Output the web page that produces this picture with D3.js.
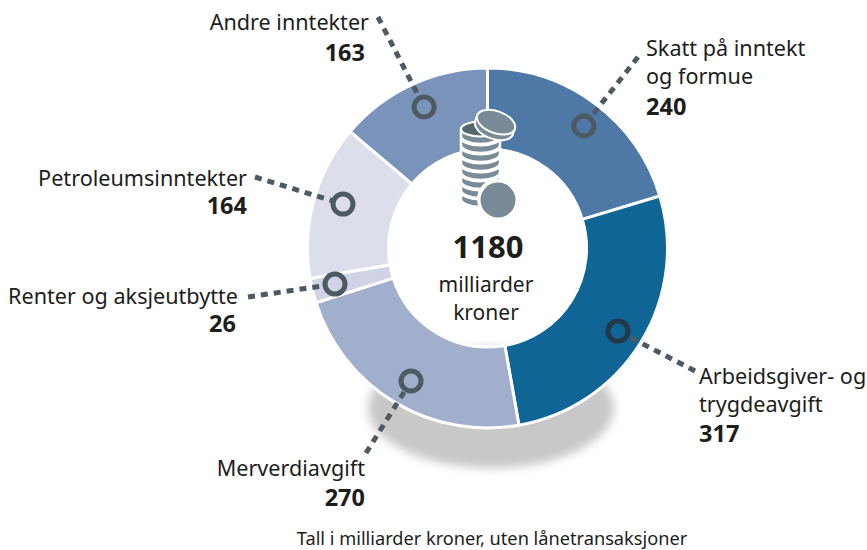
<!DOCTYPE html>
<html><head><meta charset="utf-8">
<script src="https://cdn.jsdelivr.net/npm/d3@7"></script>
<style>html,body{margin:0;background:#fff}svg{display:block}text{font-family:"Noto Sans",sans-serif;fill:#1d1d1b}</style>
</head><body><svg id="c" width="867" height="550"></svg>
<script>
const categories=["Skatt på inntekt og formue","Arbeidsgiver- og trygdeavgift","Merverdiavgift","Renter og aksjeutbytte","Petroleumsinntekter","Andre inntekter"];
const values=[240,317,270,26,164,163];
const colors=["#4e79a7","#0f6595","#a2afcc","#cfd3e5","#dcdeeb","#7a93bb"];
const ringColors=["#4d5a61","#23394a","#4d5a61","#4d5a61","#4d5a61","#4d5a61"];
const labelLines=[["Skatt på inntekt","og formue"],["Arbeidsgiver- og","trygdeavgift"],["Merverdiavgift"],["Renter og aksjeutbytte"],["Petroleumsinntekter"],["Andre inntekter"]];
const labelAnchor=["start","start","end","end","end","end"];
const labelX=[646,699,365,238,247,369];
const labelY=[56,384,476,304,185.5,30];
const ringDeg=[38.3,122.5,209.9,256.7,286.9,335.8];
const ringRad=[155.5,154.7,153.4,156.7,151,154.6];
const leaderEnd=[[638,57],[695,371],[366,453],[248,297],[255,177],[378,17]];
const totalLabel="1180",centerLines=["milliarder","kroner"];
const footnote="Tall i milliarder kroner, uten lånetransaksjoner";
const cx=487.5,cy=248,R=180,r=99;
const svg=d3.select("#c");
const defs=svg.append("defs");
defs.append("filter").attr("id","blur").attr("x","-20%").attr("y","-20%").attr("width","140%").attr("height","140%")
  .append("feGaussianBlur").attr("stdDeviation",5);
svg.append("ellipse").attr("cx",491).attr("cy",408).attr("rx",123).attr("ry",60).attr("fill","#c8c8c8").attr("filter","url(#blur)");
const pie=d3.pie().sort(null).value(d=>d);
const arcs=pie(values);
const g=svg.append("g").attr("transform",`translate(${cx},${cy})`);
const arc=d3.arc().innerRadius(r).outerRadius(R);
g.selectAll("path.s").data(arcs).join("path").attr("class","s").attr("d",arc)
 .attr("fill",(d,i)=>colors[i]).attr("stroke","#fff").attr("stroke-width",3);
const ringPos=ringDeg.map((a,i)=>d3.pointRadial(a*Math.PI/180,ringRad[i]));
svg.append("g").selectAll("line").data(ringPos).join("line")
 .attr("x2",d=>d[0]+cx).attr("y2",d=>d[1]+cy)
 .attr("x1",(d,i)=>leaderEnd[i][0]).attr("y1",(d,i)=>leaderEnd[i][1])
 .attr("stroke","#4d5a61").attr("stroke-width",5).attr("stroke-dasharray","7 6");
svg.append("g").attr("transform",`translate(${cx},${cy})`).selectAll("circle").data(ringPos).join("circle")
 .attr("cx",d=>d[0]).attr("cy",d=>d[1]).attr("r",10)
 .attr("fill",(d,i)=>colors[i]).attr("stroke",(d,i)=>ringColors[i]).attr("stroke-width",5);
const coinFill="#7a8b98",coinDark="#55666f";
const coins=svg.append("g");
const stackY=[198,189,180,171,162,153,144,135];
stackY.forEach(y=>{
  coins.append("path").attr("d",`M461,${y-6} v7 a19.5,8 0 0 0 39,0 v-7 z`).attr("fill",coinFill).attr("stroke","#fff").attr("stroke-width",2.5);
  coins.append("ellipse").attr("cx",480.5).attr("cy",y-6).attr("rx",19.5).attr("ry",7.5).attr("fill",coinDark).attr("stroke","#fff").attr("stroke-width",2);
});
const topCoin=coins.append("g").attr("transform","translate(495,125) rotate(20)");
topCoin.append("path").attr("d","M-20,-3 v6 a20,11 0 0 0 40,0 v-6 z").attr("fill",coinFill).attr("stroke","#fff").attr("stroke-width",2);
topCoin.append("ellipse").attr("cy",-3).attr("rx",20).attr("ry",11).attr("fill",coinFill).attr("stroke","#fff").attr("stroke-width",2);
coins.append("circle").attr("cx",497).attr("cy",199).attr("r",20).attr("fill","#fff");
coins.append("circle").attr("cx",498).attr("cy",200).attr("r",17.5).attr("fill",coinFill);
const lab=svg.append("g").selectAll("g").data(categories).join("g");
lab.each(function(d,i){
  const s=d3.select(this);
  labelLines[i].forEach((t,k)=>s.append("text").attr("x",labelX[i]).attr("y",labelY[i]+k*27.5).attr("text-anchor",labelAnchor[i]).attr("font-size",21.6).text(t));
});
const valueX=[646,699,365,236,247,365];
const valueY=[115,442,506,332,214,61];
svg.append("g").selectAll("text").data(values).join("text")
 .attr("x",(d,i)=>valueX[i]).attr("y",(d,i)=>valueY[i]).attr("text-anchor",(d,i)=>labelAnchor[i])
 .attr("font-size",23.5).attr("font-weight",700).text(d=>d);
svg.append("text").attr("x",488).attr("y",258).attr("text-anchor","middle").attr("font-size",31).attr("font-weight",700).text(totalLabel);
centerLines.forEach((t,k)=>svg.append("text").attr("x",486).attr("y",292+k*28).attr("text-anchor","middle").attr("font-size",21).text(t));
svg.append("text").attr("x",492).attr("y",545).attr("text-anchor","middle").attr("font-size",18.2).text(footnote);
</script></body></html>
